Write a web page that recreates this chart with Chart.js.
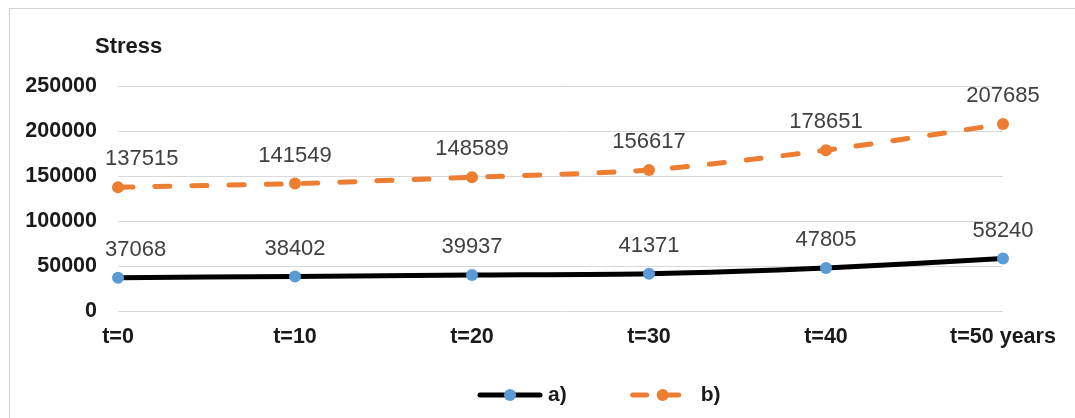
<!DOCTYPE html>
<html>
<head>
<meta charset="utf-8">
<script src="https://cdn.jsdelivr.net/npm/chart.js@4.4.1/dist/chart.umd.min.js"></script>
<style>
  html, body { margin: 0; padding: 0; background: #fff; overflow: hidden; }
  #wrap { position: relative; width: 1075px; height: 418px; }
  #frame { position: absolute; left: 9px; top: 8px; width: 1100px; height: 500px;
           border: 1px solid #d4d4d4; box-sizing: border-box; pointer-events: none; }
  canvas { position: absolute; left: 0; top: 0; }
</style>
</head>
<body>
<div id="wrap">
  <div id="frame"></div>
  <canvas id="chart" width="1075" height="418"></canvas>
</div>
<script>
// Time steps and stress values for the two cases
const categories = ['t=0', 't=10', 't=20', 't=30', 't=40', 't=50 years'];
const seriesA = [37068, 38402, 39937, 41371, 47805, 58240];
const seriesB = [137515, 141549, 148589, 156617, 178651, 207685];
const seriesNames = ['a)', 'b)'];
const yTicks = [0, 50000, 100000, 150000, 200000, 250000];
const axisTitle = 'Stress';

const FONT = '"Liberation Sans", Arial, Helvetica, sans-serif';

// Value labels above each point, plus the axis caption and the legend
const annotate = {
  id: 'annotate',
  afterDatasetsDraw(chart) {
    const ctx = chart.ctx;
    const area = chart.chartArea;
    ctx.save();
    ctx.font = '22px ' + FONT;
    ctx.fillStyle = '#404040';
    ctx.textBaseline = 'middle';
    ctx.textAlign = 'left';
    chart.data.datasets.forEach((ds, di) => {
      const meta = chart.getDatasetMeta(di);
      meta.data.forEach((pt, i) => {
        const txt = String(ds.data[i]);
        const w = ctx.measureText(txt).width;
        let left = pt.x - w / 2;
        left = Math.max(left, area.left - 13);
        ctx.fillText(txt, left, pt.y - 28);
      });
    });

    // axis caption
    ctx.font = 'bold 22px ' + FONT;
    ctx.fillStyle = '#1a1a1a';
    ctx.textAlign = 'left';
    ctx.fillText(axisTitle, area.left - 23, area.top - 39);

    // legend: line segment with a marker in the middle, then the name
    const y = 395;
    const lineLen = 66;
    let x = 477;
    const gap = 63;
    ctx.font = 'bold 21px ' + FONT;
    chart.data.datasets.forEach((ds, di) => {
      ctx.save();
      ctx.strokeStyle = ds.borderColor;
      ctx.lineWidth = ds.borderWidth;
      ctx.lineCap = 'round';
      if (ds.borderDash && ds.borderDash.length) ctx.setLineDash([14, 18]);
      ctx.beginPath();
      ctx.moveTo(x + 3, y);
      ctx.lineTo(x + lineLen - 3, y);
      ctx.stroke();
      ctx.restore();
      ctx.beginPath();
      ctx.fillStyle = ds.pointBackgroundColor;
      ctx.arc(x + lineLen / 2, y, 6, 0, Math.PI * 2);
      ctx.fill();
      ctx.fillStyle = '#1a1a1a';
      ctx.textAlign = 'left';
      ctx.fillText(ds.label, x + lineLen + 5, y);
      const tw = ctx.measureText(ds.label).width;
      x += lineLen + 5 + tw + gap;
    });
    ctx.restore();
  }
};

new Chart(document.getElementById('chart'), {
  type: 'line',
  data: {
    labels: categories,
    datasets: [
      {
        label: seriesNames[0],
        data: seriesA,
        borderColor: '#000000',
        borderWidth: 5,
        tension: 0.25,
        pointRadius: 6,
        pointBackgroundColor: '#5B9BD5',
        pointBorderWidth: 0,
        pointBorderColor: '#5B9BD5',
        order: 1
      },
      {
        label: seriesNames[1],
        data: seriesB,
        borderColor: '#ED7D31',
        borderWidth: 5,
        borderDash: [15, 22],
        borderCapStyle: 'round',
        tension: 0.25,
        pointRadius: 6,
        pointBackgroundColor: '#ED7D31',
        pointBorderWidth: 0,
        pointBorderColor: '#ED7D31',
        order: 2
      }
    ]
  },
  options: {
    responsive: false,
    animation: false,
    devicePixelRatio: 1,
    layout: { padding: { left: 0, right: 72, top: 86, bottom: 57 } },
    plugins: {
      legend: { display: false },
      tooltip: { enabled: false },
      title: { display: false }
    },
    scales: {
      x: {
        offset: false,
        grid: { display: false, drawTicks: false },
        border: { display: false },
        ticks: {
          padding: 13,
          color: '#1a1a1a',
          font: { family: FONT, size: 21.5, weight: 'bold' },
          maxRotation: 0,
          autoSkip: false
        },
        afterFit(scale) { scale.height = 50; }
      },
      y: {
        min: 0,
        max: 250000,
        afterBuildTicks(scale) { scale.ticks = yTicks.map(v => ({ value: v })); },
        grid: { color: '#d9d9d9', lineWidth: 1, drawTicks: false },
        border: { display: false },
        ticks: {
          padding: 21,
          color: '#1a1a1a',
          font: { family: FONT, size: 21.5, weight: 'bold' },
          callback: v => String(v)
        },
        afterFit(scale) { scale.width = 118; }
      }
    }
  },
  plugins: [annotate]
});
</script>
</body>
</html>
